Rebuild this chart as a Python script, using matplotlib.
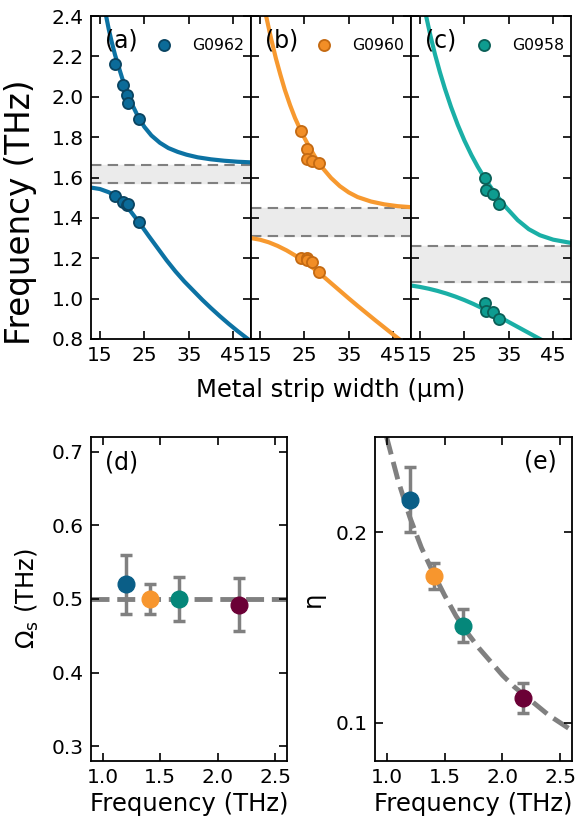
import matplotlib
matplotlib.use('Agg')
import matplotlib.pyplot as plt

# --- data ---
samples = ['G0962', 'G0960', 'G0958']
line_colors = ['#0c72a3', '#f7992f', '#1aafa6']
face_colors = ['#0b6b99', '#f28e26', '#0e9c90']
edge_colors = ['#0a4461', '#c46a12', '#0b5f57']
panel_tags = ['(a)', '(b)', '(c)']

# measured points: strip width (um), upper / lower branch frequency (THz)
w_meas_a = [18.4, 20.1, 21.0, 21.3, 23.8]
up_meas_a = [2.16, 2.06, 2.01, 1.97, 1.89]
lo_meas_a = [1.51, 1.48, 1.465, 1.47, 1.38]

w_meas_b = [24.3, 25.5, 25.6, 26.8, 28.3]
up_meas_b = [1.83, 1.74, 1.69, 1.68, 1.67]
lo_meas_b = [1.20, 1.20, 1.19, 1.18, 1.13]

w_meas_c = [29.7, 29.9, 31.4, 32.9]
up_meas_c = [1.60, 1.54, 1.52, 1.47]
lo_meas_c = [0.98, 0.94, 0.935, 0.90]

# fitted branches
w_fit_up_a = [16.4, 17.0, 17.7, 18.4, 19.2, 20.0, 21.0, 22.2, 23.6, 25.0, 26.6, 28.5, 30.4, 32.5, 34.5, 37.0, 40.0, 43.0, 46.0, 49.0]
f_fit_up_a = [2.40, 2.334, 2.268, 2.208, 2.15, 2.093, 2.03, 1.964, 1.901, 1.851, 1.808, 1.772, 1.746, 1.727, 1.713, 1.700, 1.690, 1.683, 1.678, 1.675]
w_fit_lo_a = [13, 15, 17, 18.4, 20, 22, 23.8, 26, 28, 30, 32, 34, 36, 38, 40, 42, 44, 46, 48, 50]
f_fit_lo_a = [1.55, 1.543, 1.527, 1.51, 1.48, 1.43, 1.378, 1.31, 1.25, 1.19, 1.135, 1.085, 1.04, 0.995, 0.953, 0.913, 0.875, 0.839, 0.805, 0.772]

w_fit_up_b = [16.4, 17.5, 18.6, 19.6, 20.6, 21.8, 22.9, 24.0, 25.0, 26.2, 27.4, 29.0, 31.0, 33.0, 35.0, 37.0, 40.0, 43.0, 46.0, 49.0]
f_fit_up_b = [2.40, 2.29, 2.19, 2.11, 2.035, 1.958, 1.895, 1.842, 1.797, 1.748, 1.703, 1.650, 1.598, 1.557, 1.526, 1.503, 1.481, 1.467, 1.458, 1.453]
w_fit_lo_b = [13, 15, 17, 19, 21, 23, 25, 27, 29, 31, 33, 35, 37, 39, 41, 43, 45, 47]
f_fit_lo_b = [1.30, 1.292, 1.279, 1.261, 1.239, 1.213, 1.184, 1.151, 1.115, 1.077, 1.039, 1.001, 0.964, 0.928, 0.892, 0.857, 0.822, 0.788]

w_fit_up_c = [16.4, 17.4, 18.4, 19.5, 20.6, 22.0, 23.5, 25.0, 26.6, 28.0, 29.2, 30.5, 32.0, 34.5, 37.0, 39.5, 42.0, 45.0, 49.0]
f_fit_up_c = [2.40, 2.30, 2.21, 2.122, 2.042, 1.95, 1.862, 1.784, 1.711, 1.654, 1.61, 1.566, 1.519, 1.449, 1.389, 1.344, 1.314, 1.292, 1.276]
w_fit_lo_c = [13, 15, 17, 19, 21, 23, 25, 27, 29, 31, 33, 35, 37, 39, 41, 43]
f_fit_lo_c = [1.065, 1.058, 1.049, 1.038, 1.025, 1.010, 0.993, 0.974, 0.953, 0.931, 0.908, 0.884, 0.860, 0.836, 0.812, 0.788]

# gap bands (THz)
band_lo = [1.575, 1.31, 1.08]
band_hi = [1.66, 1.45, 1.26]

# bottom panels
f_res = [1.20, 1.41, 1.66, 2.18]
dot_colors = ['#0a5e87', '#f7962e', '#05877a', '#6b0036']
omega_s = [0.52, 0.50, 0.50, 0.492]
omega_err = [0.04, 0.02, 0.03, 0.036]
eta = [0.217, 0.177, 0.151, 0.113]
eta_err = [0.017, 0.007, 0.0087, 0.008]
eta_fit_f = [1.0, 1.1, 1.2, 1.3, 1.4, 1.5, 1.6, 1.7, 1.8, 1.9, 2.0, 2.1, 2.2, 2.3, 2.4, 2.5, 2.6]
eta_fit = [0.250, 0.227, 0.208, 0.192, 0.179, 0.167, 0.156, 0.147, 0.139, 0.132, 0.125, 0.119, 0.114, 0.109, 0.104, 0.100, 0.096]

meas = [(w_meas_a, up_meas_a, lo_meas_a), (w_meas_b, up_meas_b, lo_meas_b), (w_meas_c, up_meas_c, lo_meas_c)]
fits = [(w_fit_up_a, f_fit_up_a, w_fit_lo_a, f_fit_lo_a),
        (w_fit_up_b, f_fit_up_b, w_fit_lo_b, f_fit_lo_b),
        (w_fit_up_c, f_fit_up_c, w_fit_lo_c, f_fit_lo_c)]

tick_fs = 14.5
label_fs = 17.5


def style(ax):
    ax.tick_params(direction='in', top=True, right=True, length=6, width=1.2, labelsize=tick_fs, pad=5)
    for s in ax.spines.values():
        s.set_linewidth(1.3)


fig = plt.figure(figsize=(5.8, 8.27), dpi=100)

pw = 160 / 580
for i in range(3):
    ax = fig.add_axes([91 / 580 + i * pw, 1 - 339 / 827, pw, 323 / 827])
    wu, fu, wl, fl = fits[i]
    ax.axhspan(band_lo[i], band_hi[i], color='#ebebeb', zorder=0)
    ax.axhline(band_lo[i], color='#808080', ls=(0, (5, 3)), lw=1.5, zorder=1)
    ax.axhline(band_hi[i], color='#808080', ls=(0, (5, 3)), lw=1.5, zorder=1)
    ax.plot(wu, fu, color=line_colors[i], lw=3, zorder=2, solid_joinstyle='round')
    ax.plot(wl, fl, color=line_colors[i], lw=3, zorder=2, solid_joinstyle='round')
    wm, um, lm = meas[i]
    ax.plot(wm, um, 'o', ms=8, mfc=face_colors[i], mec=edge_colors[i], mew=1.3, zorder=3, label=samples[i])
    ax.plot(wm, lm, 'o', ms=8, mfc=face_colors[i], mec=edge_colors[i], mew=1.3, zorder=3)
    ax.set_xlim(13, 49)
    ax.set_ylim(0.8, 2.4)
    ax.set_xticks([15, 25, 35, 45])
    ax.set_yticks([0.8, 1.0, 1.2, 1.4, 1.6, 1.8, 2.0, 2.2, 2.4])
    style(ax)
    if i == 0:
        ax.set_ylabel('Frequency (THz)', fontsize=23.5)
        ax.yaxis.set_label_coords(-0.335, 0.393)
    else:
        ax.set_yticklabels([])
    ax.text(0.085, 0.923, panel_tags[i], transform=ax.transAxes, fontsize=17, va='center')
    ax.legend(loc='upper right', bbox_to_anchor=(1.045, 0.975), frameon=False, fontsize=11.3,
              handletextpad=0.8, borderaxespad=0.5)

fig.text(331 / 580, 1 - 390 / 827, 'Metal strip width (μm)', fontsize=label_fs, ha='center', va='center')

# (d)
axd = fig.add_axes([91 / 580, 1 - 761 / 827, 196 / 580, 324 / 827])
axd.axhline(0.5, color='#808080', ls='--', lw=3.5, zorder=1)
for k in range(4):
    axd.errorbar(f_res[k], omega_s[k], yerr=omega_err[k], fmt='none', ecolor='#808080',
                 elinewidth=2.5, capsize=4, capthick=2.5, zorder=2)
    axd.plot(f_res[k], omega_s[k], 'o', ms=12, color=dot_colors[k], zorder=3)
axd.set_xlim(0.9, 2.6)
axd.set_ylim(0.28, 0.72)
axd.set_xticks([1.0, 1.5, 2.0, 2.5])
axd.set_yticks([0.3, 0.4, 0.5, 0.6, 0.7])
style(axd)
axd.set_xlabel('Frequency (THz)', fontsize=label_fs, labelpad=4)
axd.set_ylabel(r'$\Omega_\mathrm{s}$ (THz)', fontsize=label_fs, labelpad=8)
axd.text(0.071, 0.92, '(d)', transform=axd.transAxes, fontsize=17, va='center')

# (e)
axe = fig.add_axes([375 / 580, 1 - 761 / 827, 197 / 580, 324 / 827])
axe.plot(eta_fit_f, eta_fit, color='#808080', ls='--', lw=3.5, zorder=1)
for k in range(4):
    axe.errorbar(f_res[k], eta[k], yerr=eta_err[k], fmt='none', ecolor='#808080',
                 elinewidth=2.5, capsize=4, capthick=2.5, zorder=2)
    axe.plot(f_res[k], eta[k], 'o', ms=12, color=dot_colors[k], zorder=3)
axe.set_xlim(0.9, 2.6)
axe.set_ylim(0.08, 0.25)
axe.set_xticks([1.0, 1.5, 2.0, 2.5])
axe.set_yticks([0.1, 0.2])
style(axe)
axe.set_xlabel('Frequency (THz)', fontsize=label_fs, labelpad=4)
axe.set_ylabel('η', fontsize=label_fs, labelpad=8)
axe.text(0.922, 0.924, '(e)', transform=axe.transAxes, fontsize=17, va='center', ha='right')

fig.savefig('out.png', dpi=100)
